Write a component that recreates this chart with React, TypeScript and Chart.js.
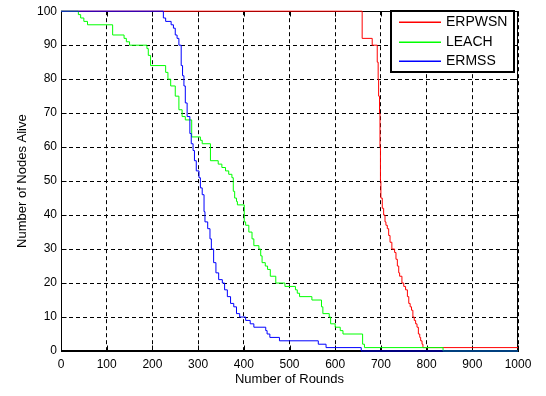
import React, { useEffect, useRef } from 'react';
import { Chart, registerables } from 'chart.js';

Chart.register(...registerables);

// ---- data (round at which the count changes, nodes alive from that round) ----
const erpwsnRounds = [0, 659, 681, 692, 694, 695, 697, 698, 699, 700, 703, 706, 709, 711, 714, 717, 720, 724, 730, 733, 736, 739, 741, 746, 750, 754, 758, 761, 764, 767, 770, 773, 776, 779, 782, 785, 787, 790, 792, 1000];
const erpwsnAlive = [100, 92, 90, 85, 80, 75, 70, 60, 50, 45, 42, 40, 38, 37, 36, 34, 32, 30, 29, 27, 25, 23, 22, 20, 19, 18, 16, 14, 13, 12, 10, 9, 8, 7, 5, 4, 3, 2, 1, 1];

const leachRounds = [0, 38, 43, 50, 58, 113, 138, 143, 150, 188, 191, 196, 229, 234, 240, 250, 258, 265, 272, 286, 305, 309, 327, 344, 352, 360, 367, 374, 377, 380, 384, 386, 401, 404, 411, 418, 422, 433, 437, 440, 447, 452, 458, 470, 490, 513, 517, 522, 549, 570, 573, 587, 590, 600, 611, 617, 660, 664, 836, 1000];
const leachAlive = [100, 99, 98, 97, 96, 93, 92, 91, 90, 89, 87, 84, 82, 80, 78, 75, 71, 69, 68, 63, 62, 61, 56, 55, 54, 53, 52, 51, 47, 45, 44, 43, 38, 37, 35, 33, 31, 30, 28, 26, 25, 24, 22, 20, 19, 18, 17, 16, 15, 13, 11, 10, 8, 7, 6, 5, 2, 1, 0, 0];

const ermssRounds = [0, 224, 229, 241, 246, 250, 254, 258, 263, 266, 269, 272, 276, 282, 285, 289, 292, 296, 302, 305, 309, 313, 315, 321, 326, 329, 334, 339, 345, 353, 358, 364, 371, 378, 384, 391, 404, 414, 422, 448, 451, 457, 478, 563, 580, 657, 1000];
const ermssAlive = [100, 98, 97, 96, 95, 93, 92, 90, 84, 81, 78, 73, 69, 64, 61, 59, 56, 53, 51, 48, 46, 41, 38, 36, 33, 30, 26, 23, 21, 20, 18, 16, 14, 13, 11, 10, 9, 8, 7, 6, 5, 4, 3, 2, 1, 0, 0];

const seriesLabels = ['ERPWSN', 'LEACH', 'ERMSS'];
const seriesColors = ['#ff0000', '#00ff00', '#0000ff'];

const xTickValues = [0, 100, 200, 300, 400, 500, 600, 700, 800, 900, 1000];
const yTickValues = [0, 10, 20, 30, 40, 50, 60, 70, 80, 90, 100];

const xTitle = 'Number of Rounds';
const yTitle = 'Number of Nodes Alive';

const FONT = '"Liberation Sans", Arial, Helvetica, sans-serif';

function toPoints(xs: number[], ys: number[]) {
  return xs.map((x, i) => ({ x, y: ys[i] }));
}

const boxPlugin = {
  id: 'boxPlugin',
  beforeDatasetsDraw(chart: any) {
    const { ctx, chartArea } = chart;
    const l = Math.round(chartArea.left) + 0.5;
    const r = Math.round(chartArea.right) - 0.5;
    const t = Math.round(chartArea.top) + 0.5;
    const b = Math.round(chartArea.bottom) - 0.5;
    ctx.save();
    ctx.setLineDash([]);
    ctx.strokeStyle = '#000';
    ctx.lineWidth = 1;
    ctx.strokeRect(l, t, r - l, b - t);
    const xs = chart.scales.x;
    const ys = chart.scales.y;
    ctx.beginPath();
    xTickValues.forEach((v) => {
      const px = Math.round(xs.getPixelForValue(v)) + 0.5;
      ctx.moveTo(px, b);
      ctx.lineTo(px, b - 5);
      ctx.moveTo(px, t);
      ctx.lineTo(px, t + 5);
    });
    yTickValues.forEach((v) => {
      const py = Math.round(ys.getPixelForValue(v)) + 0.5;
      ctx.moveTo(l, py);
      ctx.lineTo(l + 5, py);
      ctx.moveTo(r, py);
      ctx.lineTo(r - 5, py);
    });
    ctx.stroke();
    ctx.restore();
  },
};

const legendPlugin = {
  id: 'legendPlugin',
  afterDatasetsDraw(chart: any) {
    const { ctx } = chart;
    const bx = 391, by = 11, bw = 123, bh = 61;
    ctx.save();
    ctx.setLineDash([]);
    ctx.fillStyle = '#fff';
    ctx.fillRect(bx, by, bw, bh);
    ctx.strokeStyle = '#000';
    ctx.lineWidth = 2;
    ctx.strokeRect(bx, by, bw, bh);
    ctx.font = `14px ${FONT}`;
    ctx.textBaseline = 'middle';
    ctx.textAlign = 'left';
    seriesLabels.forEach((label, i) => {
      const yy = Math.round(22 + i * 19.5);
      ctx.fillStyle = seriesColors[i];
      ctx.fillRect(399, yy - 0.5, 42, 1.5);
      ctx.fillStyle = '#000';
      ctx.fillText(label, 446, yy + 0.5);
    });
    ctx.restore();
  },
};

export default function App() {
  const canvasRef = useRef<HTMLCanvasElement | null>(null);

  useEffect(() => {
    const canvas = canvasRef.current;
    if (!canvas) return;
    const seriesRounds = [erpwsnRounds, leachRounds, ermssRounds];
    const seriesAlive = [erpwsnAlive, leachAlive, ermssAlive];
    const tickFont = { family: FONT, size: 12 };
    const titleFont = { family: FONT, size: 13 };
    const chart = new Chart(canvas, {
      type: 'line',
      data: {
        datasets: seriesLabels.map((label, i) => ({
          label,
          data: toPoints(seriesRounds[i], seriesAlive[i]),
          borderColor: seriesColors[i],
          backgroundColor: seriesColors[i],
          borderWidth: 1,
          pointRadius: 0,
          stepped: true,
          fill: false,
          clip: false as any,
          order: 3 - i,
        })),
      },
      options: {
        animation: false,
        responsive: false,
        maintainAspectRatio: false,
        layout: { padding: { top: 5, right: 28, left: 0, bottom: 0 } },
        plugins: { legend: { display: false }, tooltip: { enabled: false } },
        scales: {
          x: {
            type: 'linear',
            min: 0,
            max: 1000,
            afterBuildTicks: (s: any) => {
              s.ticks = xTickValues.map((v) => ({ value: v }));
            },
            afterFit: (s: any) => {
              s.height = 45;
            },
            ticks: { font: tickFont, color: '#000', padding: 6, maxRotation: 0, autoSkip: false, callback: (v: any) => String(v) },
            grid: { color: '#000', lineWidth: 1, drawTicks: false },
            border: { display: true, color: '#000', dash: [4, 3] },
            title: { display: true, text: xTitle, font: titleFont, color: '#000', padding: { top: 0, bottom: 9 } },
          },
          y: {
            type: 'linear',
            min: 0,
            max: 100,
            afterBuildTicks: (s: any) => {
              s.ticks = yTickValues.map((v) => ({ value: v }));
            },
            afterFit: (s: any) => {
              s.width = 61;
            },
            ticks: { font: tickFont, color: '#000', padding: 4, autoSkip: false, callback: (v: any) => String(v) },
            grid: { color: '#000', lineWidth: 1, drawTicks: false },
            border: { display: true, color: '#000', dash: [4, 3] },
            title: { display: true, text: yTitle, font: titleFont, color: '#000', padding: { top: 15, bottom: 0 } },
          },
        },
      },
      plugins: [boxPlugin, legendPlugin],
    } as any);
    return () => chart.destroy();
  }, []);

  return (
    <div style={{ position: 'fixed', left: 0, top: 0, width: 546, height: 396, background: '#fff' }}>
      <canvas ref={canvasRef} width={546} height={396} style={{ display: 'block' }} />
    </div>
  );
}
